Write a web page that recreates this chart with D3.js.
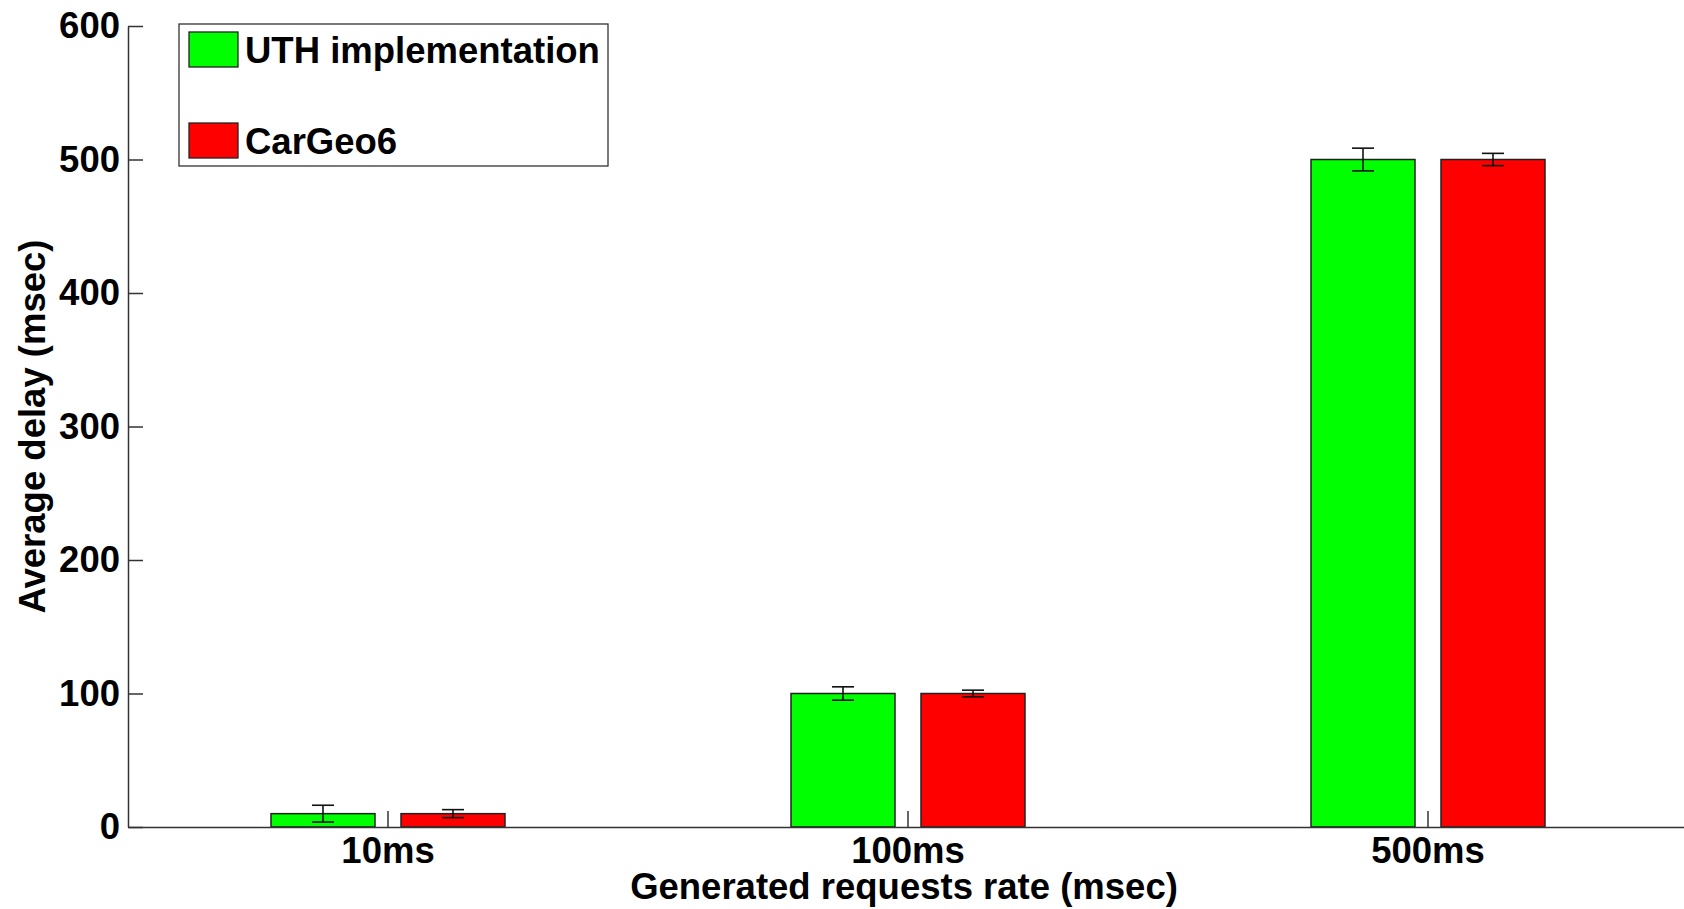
<!DOCTYPE html>
<html>
<head>
<meta charset="utf-8">
<script src="https://cdn.jsdelivr.net/npm/d3@7"></script>
<style>
  body { margin: 0; background: #fff; }
  text { font-family: "Liberation Sans", Arial, sans-serif; font-weight: bold; fill: #000; }
</style>
</head>
<body>
<script>
// chart data
var categories = ["10ms", "100ms", "500ms"];
var seriesNames = ["UTH implementation", "CarGeo6"];
var seriesColors = ["#00ff00", "#ff0000"];
var uthValues = [10, 100, 500];
var uthErrors = [6.3, 5, 8.5];
var carGeoValues = [10, 100, 500];
var carGeoErrors = [3, 2.5, 4.6];
var yTicks = [0, 100, 200, 300, 400, 500, 600];

function drawChart() {
    var width = 1684, height = 909;
    var left = 128, right = 1688, top = 26, bottom = 827;
    var fontSize = 36.5;

    var svg = d3.select("body").append("svg")
        .attr("width", width)
        .attr("height", height);

    var xScale = d3.scaleBand().domain(categories).range([left, right]);
    var subScale = d3.scaleBand().domain(seriesNames)
        .range([-xScale.bandwidth() * 0.225, xScale.bandwidth() * 0.225])
        .paddingInner(0.2);
    var yScale = d3.scaleLinear().domain([0, 600]).range([bottom, top]);

    var rows = [];
    categories.forEach(function(c, i) {
        rows.push({cat: c, name: seriesNames[0], color: seriesColors[0], v: uthValues[i], e: uthErrors[i]});
        rows.push({cat: c, name: seriesNames[1], color: seriesColors[1], v: carGeoValues[i], e: carGeoErrors[i]});
    });

    function cx(d) { return xScale(d.cat) + xScale.bandwidth() / 2 + subScale(d.name); }

    // bars
    svg.selectAll("rect.bar").data(rows).enter().append("rect")
        .attr("class", "bar")
        .attr("x", cx)
        .attr("y", function(d) { return yScale(d.v); })
        .attr("width", subScale.bandwidth())
        .attr("height", function(d) { return yScale(0) - yScale(d.v); })
        .attr("fill", function(d) { return d.color; })
        .attr("stroke", "#222")
        .attr("stroke-width", 1.5);

    // error bars
    var capW = 11;
    var eb = svg.selectAll("g.err").data(rows).enter().append("g").attr("class", "err")
        .attr("stroke", "#111").attr("stroke-width", 1.6);
    eb.append("line")
        .attr("x1", function(d) { return cx(d) + subScale.bandwidth() / 2; })
        .attr("x2", function(d) { return cx(d) + subScale.bandwidth() / 2; })
        .attr("y1", function(d) { return yScale(d.v - d.e); })
        .attr("y2", function(d) { return yScale(d.v + d.e); });
    [1, -1].forEach(function(s) {
        eb.append("line")
            .attr("x1", function(d) { return cx(d) + subScale.bandwidth() / 2 - capW; })
            .attr("x2", function(d) { return cx(d) + subScale.bandwidth() / 2 + capW; })
            .attr("y1", function(d) { return yScale(d.v + s * d.e); })
            .attr("y2", function(d) { return yScale(d.v + s * d.e); });
    });

    // x axis
    var xAxis = svg.append("g")
        .attr("transform", "translate(0," + bottom + ")")
        .call(d3.axisBottom(xScale).tickSizeInner(-16).tickSizeOuter(0).tickPadding(10));
    xAxis.select(".domain").attr("stroke", "#333").attr("stroke-width", 1.5);
    xAxis.selectAll(".tick line").attr("stroke", "#333").attr("stroke-width", 1.5);
    xAxis.selectAll("text").attr("font-size", fontSize).attr("fill", "#000");

    // y axis
    var yAxis = svg.append("g")
        .attr("transform", "translate(" + left + ",0)")
        .call(d3.axisLeft(yScale).tickValues(yTicks).tickSizeInner(-15).tickSizeOuter(0).tickPadding(8));
    yAxis.select(".domain").attr("stroke", "#333").attr("stroke-width", 1.5);
    yAxis.selectAll(".tick line").attr("stroke", "#333").attr("stroke-width", 1.5);
    yAxis.selectAll("text").attr("font-size", fontSize).attr("fill", "#000");

    // axis titles
    svg.append("text")
        .attr("x", (left + right) / 2 - 4)
        .attr("y", 899)
        .attr("text-anchor", "middle")
        .attr("font-size", fontSize)
        .text("Generated requests rate (msec)");

    svg.append("text")
        .attr("transform", "translate(45," + (top + bottom) / 2 + ") rotate(-90)")
        .attr("text-anchor", "middle")
        .attr("font-size", fontSize)
        .text("Average delay (msec)");

    // legend
    var legend = svg.append("g");
    legend.append("rect")
        .attr("x", 179).attr("y", 24).attr("width", 429).attr("height", 142)
        .attr("fill", "#fff").attr("stroke", "#333").attr("stroke-width", 1.3);
    var items = legend.selectAll("g.item").data(seriesNames).enter().append("g")
        .attr("transform", function(d, i) { return "translate(189," + (32 + i * 91) + ")"; });
    items.append("rect")
        .attr("width", 49).attr("height", 35)
        .attr("fill", function(d, i) { return seriesColors[i]; })
        .attr("stroke", "#222").attr("stroke-width", 1.3);
    items.append("text")
        .attr("x", 56).attr("y", 31)
        .attr("font-size", fontSize)
        .text(function(d) { return d; });
}

window.onload = function() {
    drawChart();
};
</script>
</body>
</html>
